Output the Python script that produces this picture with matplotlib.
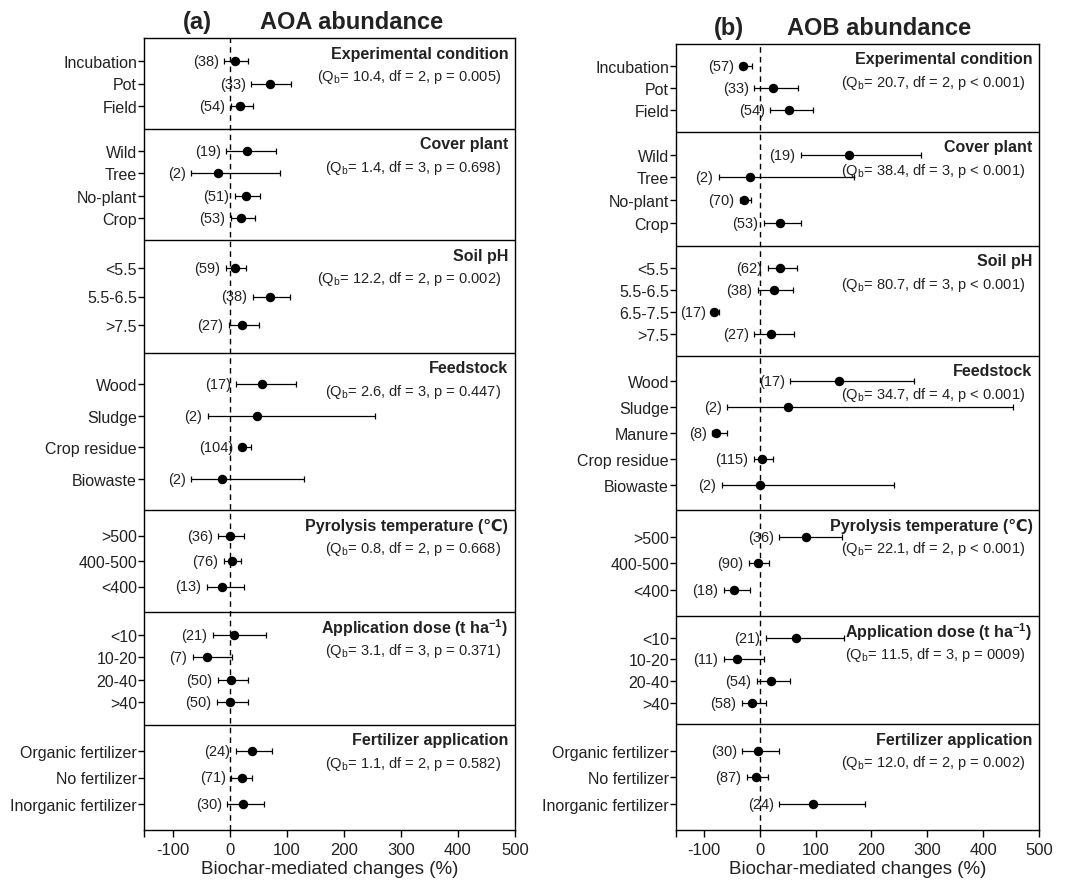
import numpy as np
import matplotlib.pyplot as plt

plt.rcParams['font.family'] = ['Liberation Sans', 'DejaVu Sans']
plt.rcParams['mathtext.fontset'] = 'custom'
plt.rcParams['mathtext.rm'] = 'Liberation Sans'
plt.rcParams['mathtext.bf'] = 'Liberation Sans:bold'
plt.rcParams['axes.unicode_minus'] = False

# group titles (same for both panels)
groups = ['Experimental condition', 'Cover plant', 'Soil pH', 'Feedstock',
          'Pyrolysis temperature (℃)', r'Application dose (t ha$^{\mathbf{-1}}$)',
          'Fertilizer application']

# ---- (a) AOA abundance ----
aoa_cats = ['Incubation', 'Pot', 'Field',
            'Wild', 'Tree', 'No-plant', 'Crop',
            '<5.5', '5.5-6.5', '>7.5',
            'Wood', 'Sludge', 'Crop residue', 'Biowaste',
            '>500', '400-500', '<400',
            '<10', '10-20', '20-40', '>40',
            'Organic fertilizer', 'No fertilizer', 'Inorganic fertilizer']
aoa_sizes = [3, 4, 3, 4, 3, 4, 3]
aoa_mean = [9, 70, 19, 30, -20, 29, 20, 9, 70, 22, 57, 48, 22, -13,
            0, 5, -13, 8, -40, 2, 1, 39, 21, 24]
aoa_low = [-9, 38, 2, -6, -67, 9, 2, -7, 41, -1, 12, -38, 17, -67,
           -20, -10, -40, -29, -65, -20, -22, 11, 3, -4]
aoa_high = [32, 108, 41, 81, 89, 54, 44, 28, 106, 51, 116, 255, 38, 130,
            26, 20, 26, 64, 5, 33, 32, 75, 40, 61]
aoa_n = [38, 33, 54, 19, 2, 51, 53, 59, 38, 27, 17, 2, 104, 2,
         36, 76, 13, 21, 7, 50, 50, 24, 71, 30]
aoa_stats = ['10.4, df = 2, p = 0.005', '1.4, df = 3, p = 0.698',
             '12.2, df = 2, p = 0.002', '2.6, df = 3, p = 0.447',
             '0.8, df = 2, p = 0.668', '3.1, df = 3, p = 0.371',
             '1.1, df = 2, p = 0.582']

# ---- (b) AOB abundance ----
aob_cats = ['Incubation', 'Pot', 'Field',
            'Wild', 'Tree', 'No-plant', 'Crop',
            '<5.5', '5.5-6.5', '6.5-7.5', '>7.5',
            'Wood', 'Sludge', 'Manure', 'Crop residue', 'Biowaste',
            '>500', '400-500', '<400',
            '<10', '10-20', '20-40', '>40',
            'Organic fertilizer', 'No fertilizer', 'Inorganic fertilizer']
aob_sizes = [3, 4, 4, 5, 3, 4, 3]
aob_mean = [-30, 23, 53, 160, -18, -29, 36, 37, 25, -82, 20,
            141, 50, -79, 4, 1, 82, -3, -47, 64, -40, 20, -14, -4, -7, 96]
aob_low = [-36, -10, 19, 74, -73, -35, 7, 14, -3, -86, -10,
           55, -58, -85, -11, -68, 35, -20, -64, 11, -64, -5, -32, -31, -23, 35]
aob_high = [-14, 68, 96, 289, 168, -15, 73, 67, 60, -73, 62,
            276, 454, -58, 23, 241, 148, 17, -17, 150, 7, 55, 12, 35, 14, 188]
aob_n = [57, 33, 54, 19, 2, 70, 53, 62, 38, 17, 27, 17, 2, 8, 115, 2,
         36, 90, 18, 21, 11, 54, 58, 30, 87, 24]
aob_stats = ['20.7, df = 2, p < 0.001', '38.4, df = 3, p < 0.001',
             '80.7, df = 3, p < 0.001', '34.7, df = 4, p < 0.001',
             '22.1, df = 2, p < 0.001', '11.5, df = 3, p = 0009',
             '12.0, df = 2, p = 0.002']


def draw_panel(ax, cats, sizes, mean, low, high, n, stats, sec_h, letter, title):
    mean = np.array(mean, float)
    low = np.array(low, float)
    high = np.array(high, float)
    tops = np.concatenate([[0], np.cumsum(sec_h)[:-1]])
    ys = []
    for top, h, k in zip(tops, sec_h, sizes):
        step = h / (k + 1)
        ys += [top + step * (i + 1) for i in range(k)]
    ys = np.array(ys)

    ax.axvline(0, color='k', ls='--', lw=1, dashes=(4, 3))
    ax.errorbar(mean, ys, xerr=[mean - low, high - mean], fmt='o', color='k',
                ms=5.8, capsize=2.5, elinewidth=0.9, capthick=0.9)
    for b in np.cumsum(sec_h)[:-1]:
        ax.axhline(b, color='k', lw=1)
    for lo, y, k in zip(low, ys, n):
        ax.annotate(f'({k})', (lo, y), xytext=(-4, 0), textcoords='offset points',
                    ha='right', va='center', fontsize=10.5, color='#222222')

    tr = ax.get_yaxis_transform()
    for top, g, s in zip(tops, groups, stats):
        ax.text(0.982, top + 15, g, transform=tr, ha='right', va='center',
                fontsize=11.5, fontweight='bold', color='#222222')
        ax.text(0.962, top + 38, r'($\mathrm{Q_b}$= ' + s + ')', transform=tr,
                ha='right', va='center', fontsize=10.5, color='#222222')

    ax.set_xlim(-150, 500)
    ax.set_ylim(sum(sec_h), 0)
    ax.set_yticks(ys)
    ax.set_yticklabels(cats, fontsize=11.5, color='#222222')
    ax.set_xticks(range(-100, 501, 100))
    ax.set_xticks([-150], minor=True)
    ax.tick_params(axis='x', labelsize=12, length=5, width=1, labelcolor='#222222')
    ax.tick_params(axis='x', which='minor', length=5, width=1)
    ax.tick_params(axis='y', length=4, width=1, pad=1)
    for sp in ax.spines.values():
        sp.set_linewidth(1)
    ax.set_xlabel('Biochar-mediated changes (%)', fontsize=13.5, labelpad=2,
                  color='#222222')

    ax.text(0.145, 1.006, letter, transform=ax.transAxes, ha='center', va='bottom',
            fontsize=17, fontweight='bold', color='#222222')
    ax.text(0.56, 1.006, title, transform=ax.transAxes, ha='center', va='bottom',
            fontsize=17, fontweight='bold', color='#222222')


fig = plt.figure(figsize=(10.73, 8.87), dpi=100)
ax1 = fig.add_axes([144 / 1073, 1 - 831 / 887, 371 / 1073, 792 / 887])
ax2 = fig.add_axes([676 / 1073, 1 - 831 / 887, 363 / 1073, 786 / 887])

draw_panel(ax1, aoa_cats, aoa_sizes, aoa_mean, aoa_low, aoa_high, aoa_n, aoa_stats,
           [91, 111, 113, 157, 102, 113, 105], '(a)', 'AOA abundance')
draw_panel(ax2, aob_cats, aob_sizes, aob_mean, aob_low, aob_high, aob_n, aob_stats,
           [88, 114, 110, 155, 106, 108, 106], '(b)', 'AOB abundance')

fig.savefig('out.png', dpi=100)
